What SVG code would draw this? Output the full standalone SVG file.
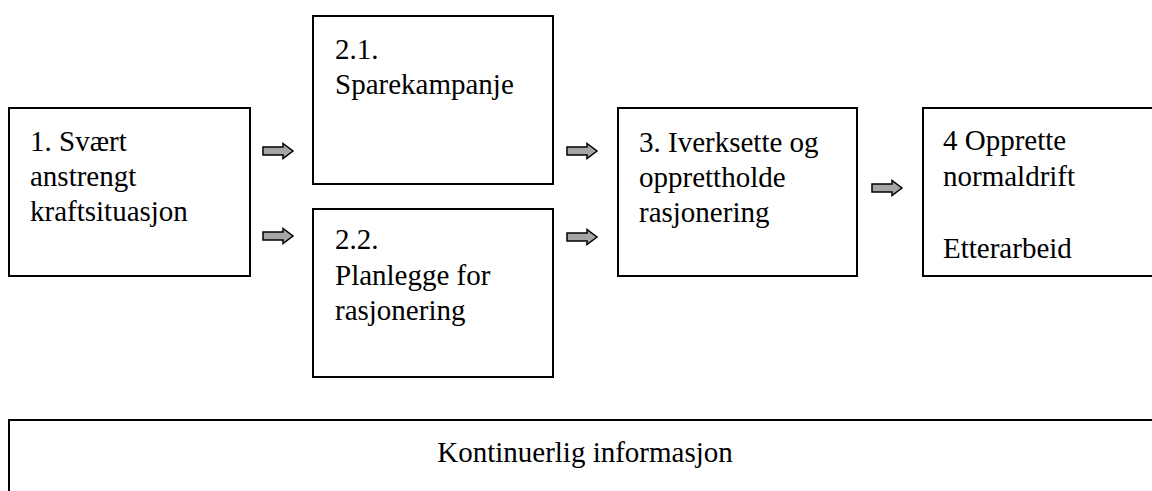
<svg xmlns="http://www.w3.org/2000/svg" width="1152" height="491" viewBox="0 0 1152 491">
<style>
.box{fill:#fff;stroke:#000;stroke-width:2}
.t{font-family:"Liberation Serif","Times New Roman",serif;font-size:29px;fill:#000}
.arr{fill:#a6a6a6;stroke:#000;stroke-width:1.5;stroke-linejoin:miter}
</style>
<defs>
<path id="a" d="M0,-4 H20 V-7.5 L30,0 L20,7.5 V4 H0 Z"/>
</defs>
<rect width="1152" height="491" fill="#fff"/>
<g id="n1">
<rect class="box" x="9" y="108" width="241" height="168"/>
<text class="t" x="30" y="151">1. Svært</text>
<text class="t" x="30" y="186">anstrengt</text>
<text class="t" x="30" y="221">kraftsituasjon</text>
</g>
<g id="n21">
<rect class="box" x="313" y="16" width="240" height="168"/>
<text class="t" x="335" y="59">2.1.</text>
<text class="t" x="335" y="94">Sparekampanje</text>
</g>
<g id="n22">
<rect class="box" x="313" y="209" width="240" height="168"/>
<text class="t" x="335" y="249">2.2.</text>
<text class="t" x="335" y="285">Planlegge for</text>
<text class="t" x="335" y="320">rasjonering</text>
</g>
<g id="n3">
<rect class="box" x="618" y="108" width="239" height="168"/>
<text class="t" x="639" y="152">3. Iverksette og</text>
<text class="t" x="639" y="187">opprettholde</text>
<text class="t" x="639" y="222">rasjonering</text>
</g>
<g id="n4">
<rect class="box" x="923" y="108" width="240" height="168"/>
<text class="t" x="943" y="150">4 Opprette</text>
<text class="t" x="943" y="186">normaldrift</text>
<text class="t" x="943" y="258">Etterarbeid</text>
</g>
<g id="info">
<rect class="box" x="9" y="420" width="1160" height="90"/>
<text class="t" x="585" y="462" text-anchor="middle">Kontinuerlig informasjon</text>
</g>
<g id="connectors">
<use href="#a" class="arr" x="263" y="151"/>
<use href="#a" class="arr" x="263" y="236"/>
<use href="#a" class="arr" x="567" y="151"/>
<use href="#a" class="arr" x="567" y="237"/>
<use href="#a" class="arr" x="872" y="188"/>
</g>
</svg>
